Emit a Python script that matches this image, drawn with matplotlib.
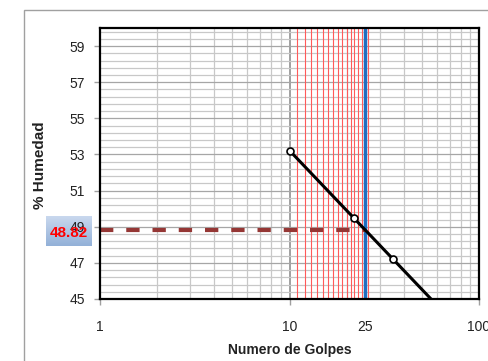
import numpy as np
import matplotlib
matplotlib.use("Agg")
import matplotlib.pyplot as plt
from matplotlib.patches import Rectangle
from matplotlib.ticker import LogLocator, NullFormatter, FixedLocator
from matplotlib.colors import LinearSegmentedColormap

plt.rcParams['font.family'] = ['Liberation Sans', 'DejaVu Sans']

# Ensayo de límite líquido (Casagrande)
golpes = [10, 22, 35]
humedad = [53.2, 49.5, 47.2]
golpes_ref = 25
limite_liquido = 48.82
banda_golpes = list(range(11, 27))   # franja de referencia en rojo
x_ticks = [1, 10, 25, 100]
x_tick_labels = ['1', '10', '25', '100']
y_ticks = [45, 47, 49, 51, 53, 55, 57, 59]

W, H = 488, 361
fig = plt.figure(figsize=(W / 100, H / 100), dpi=100)
ax = fig.add_axes([100 / W, 1 - 299 / H, 379 / W, 271 / H])

ymin, ymax = 45, 60
xmin, xmax = 1, 100
ax.set_xscale('log')
ax.set_xlim(xmin, xmax)
ax.set_ylim(ymin, ymax)

# grid
ax.xaxis.set_major_locator(FixedLocator(x_ticks))
ax.set_xticklabels(x_tick_labels)
ax.xaxis.set_minor_locator(LogLocator(base=10, subs=np.arange(2, 10)))
ax.xaxis.set_minor_formatter(NullFormatter())
ax.set_yticks(y_ticks)
ax.yaxis.set_minor_locator(FixedLocator(np.arange(ymin, ymax + 0.01, 0.4)))
ax.grid(which='minor', color='#C8C8C8', lw=0.9, zorder=0)
ax.grid(which='major', axis='y', color='#A6A6A6', lw=0.9, zorder=0)
ax.grid(which='major', axis='x', color='#868686', lw=1.1, zorder=0)
ax.set_axisbelow(True)

ax.tick_params(which='minor', length=0)
ax.tick_params(which='major', direction='out', length=4, width=1,
               color='#A0A0A0', labelsize=10, labelcolor='#222222')
ax.tick_params(axis='y', pad=7)
ax.tick_params(axis='x', pad=11)
for t, v in zip(ax.xaxis.get_major_ticks(), x_ticks):
    if v == golpes_ref:
        t.tick1line.set_visible(False)

for s in ax.spines.values():
    s.set_color('black')
    s.set_linewidth(1.6)
    s.set_zorder(6)

# red serpentine band
bx, by = [], []
for i, g in enumerate(banda_golpes):
    if i % 2 == 0:
        bx += [g, g]; by += [ymin, ymax]
    else:
        bx += [g, g]; by += [ymax, ymin]
ax.plot(bx, by, color='#FF5A5A', lw=0.8, zorder=2)

# vertical at 25 golpes
ax.plot([golpes_ref, golpes_ref], [ymin, ymax], color='#1F6EC0', lw=2.5, zorder=3)

# horizontal dashed at liquid limit
ax.plot([xmin, golpes_ref], [limite_liquido, limite_liquido], color='#953735',
        lw=3, dashes=(3.2, 3.1), dash_capstyle='butt', zorder=4)

# flow line (fit in log space)
m, b = np.polyfit(np.log10(golpes), humedad, 1)
fx = np.array([golpes[0], xmax])
ax.plot(fx, m * np.log10(fx) + b, color='black', lw=2.2, zorder=5)
ax.plot(golpes, humedad, 'o', ms=5, mfc='white', mec='black', mew=1.2, zorder=7,
        clip_on=False)

ax.set_xlabel('')
fig.text(289.5 / W, 1 - 350 / H, 'Numero de Golpes', ha='center', va='center',
         fontsize=10, fontweight='bold', color='#222222')
fig.text(40 / W, 1 - 165 / H, '% Humedad', ha='center', va='center',
         rotation=90, fontsize=11, fontweight='bold', color='#222222')

# value box for the liquid limit
bax = fig.add_axes([46 / W, 1 - 246 / H, 46 / W, 30 / H])
cmap = LinearSegmentedColormap.from_list('caja', ['#C9D8EE', '#93B1D8'])
bax.imshow(np.linspace(0, 1, 50).reshape(-1, 1), cmap=cmap, aspect='auto',
           extent=[0, 1, 0, 1], origin='upper')
bax.axis('off')
bax.set_zorder(-1)
fig.text(69 / W, 1 - 233 / H, f'{limite_liquido:.2f}', ha='center', va='center',
         fontsize=11, fontweight='bold', color='red', zorder=10)

# chart area border
fig.add_artist(Rectangle((24 / W, -0.1), 1.2, 1.1 - 10 / H, transform=fig.transFigure,
                         fill=False, edgecolor='#A0A0A0', lw=1))

fig.savefig('out.png', dpi=100)
